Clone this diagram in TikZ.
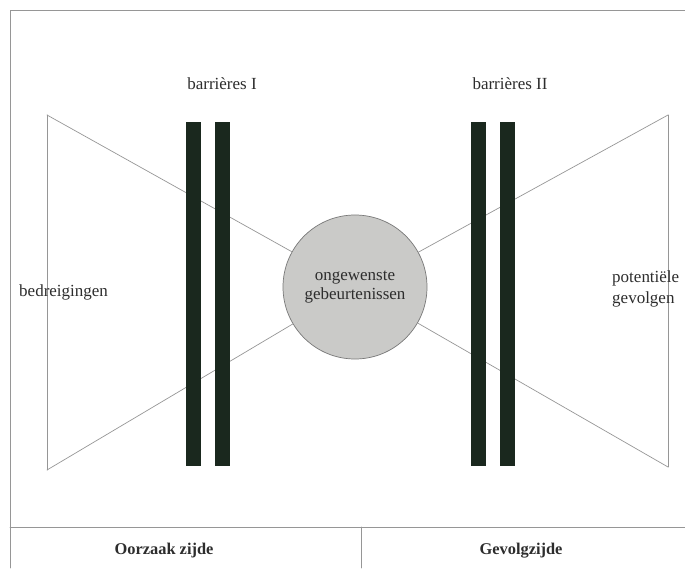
\documentclass[tikz,border=0pt]{standalone}
\usepackage{fontspec}
\setmainfont{Liberation Serif}
\definecolor{barcol}{RGB}{26,40,30}
\definecolor{eventfill}{RGB}{202,202,200}
\definecolor{linecol}{RGB}{150,150,150}
\definecolor{textcol}{RGB}{45,45,45}
\tikzset{
  thin line/.style={draw=linecol, line width=0.6pt},
  label text/.style={text=textcol, font=\fontsize{14.5}{16}\selectfont, inner sep=0pt},
  head text/.style={text=textcol, font=\fontsize{14}{16}\selectfont\bfseries, inner sep=0pt},
  barrier/.style={fill=barcol, draw=none}
}
\begin{document}
\begin{tikzpicture}[x=0.03cm, y=-0.03cm, line join=round, line cap=round]

    \useasboundingbox (0,0) rectangle (685,568);

    % frame and bottom table
    \draw[thin line] (685,10) -- (10,10) -- (10,568);
    \draw[thin line] (10,527) -- (685,527);
    \draw[thin line] (361,527) -- (361,568);

    % central event
    \node[circle, fill=eventfill, draw=linecol!80!black, line width=0.6pt,
          minimum size=4.32cm, inner sep=0pt, align=center, text=textcol,
          font=\fontsize{14.5}{16.5}\selectfont] (event) at (355,287)
          {ongewenste\\gebeurtenissen};

    % bow tie corners
    \coordinate (lt) at (47,115);
    \coordinate (lb) at (47,470);
    \coordinate (rt) at (668,115);
    \coordinate (rb) at (668,467);

    \draw[thin line] (lt) -- (lb);
    \draw[thin line] (rt) -- (rb);
    \foreach \c in {lt, lb, rt, rb} {
        \draw[thin line] (\c) -- (event);
    }

    % barriers
    \foreach \x in {186, 215, 471, 500} {
        \fill[barrier] (\x,122) rectangle (\x+15,466);
    }

    % labels
    \node[label text] (barI) at (222,84) {barrières I};
    \node[label text] (barII) at (510,84) {barrières II};
    \node[label text, anchor=west] (threats) at (19,292) {bedreigingen};
    \node[label text, anchor=west, align=left, font=\fontsize{14.5}{18.5}\selectfont] (effects) at (612,289) {potentiële\\gevolgen};
    \node[head text] (cause) at (164,551) {Oorzaak zijde};
    \node[head text] (effect) at (521,551) {Gevolgzijde};

\end{tikzpicture}
\end{document}
